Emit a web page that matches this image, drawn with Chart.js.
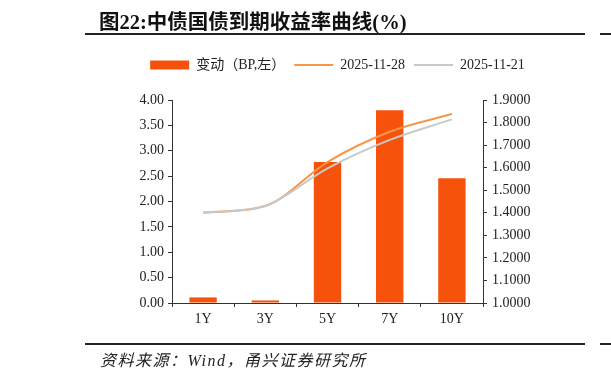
<!DOCTYPE html>
<html>
<head>
<meta charset="utf-8">
<script src="https://cdn.jsdelivr.net/npm/chart.js@4.4.0/dist/chart.umd.min.js"></script>
<style>
  body { margin: 0; background: #fff; }
  #wrap { position: relative; width: 611px; height: 377px; overflow: hidden; }
  #title { position: absolute; left: 99px; top: 5px; font: bold 20.5px 'Liberation Serif', 'Noto Sans CJK SC', serif; color: #111; white-space: nowrap; }
  .rule { position: absolute; height: 2px; background: #222; }
  #source { position: absolute; left: 100px; top: 347px; font: italic 16px 'Liberation Serif', 'Noto Sans CJK SC', serif; color: #222; letter-spacing: 1.5px; white-space: nowrap; }
  canvas { position: absolute; left: 0; top: 0; }
</style>
</head>
<body>
<div id="wrap">
  <canvas id="mycanvas" width="611" height="377"></canvas>
  <div id="title">图22:中债国债到期收益率曲线(%)</div>
  <div class="rule" style="left:85px; top:33px; width:500px;"></div>
  <div class="rule" style="left:600px; top:33px; width:11px;"></div>
  <div class="rule" style="left:85px; top:343px; width:500px;"></div>
  <div class="rule" style="left:600px; top:343px; width:11px;"></div>
  <div id="source">资料来源：Wind，甬兴证券研究所</div>
</div>
<script>
var tenors = ['1Y', '3Y', '5Y', '7Y', '10Y'];
var changeBp = [0.11, 0.05, 2.78, 3.80, 2.46];
var yield1128 = [1.401, 1.430, 1.625, 1.759, 1.838];
var yield1121 = [1.400, 1.431, 1.597, 1.723, 1.814];

var serif = "'Liberation Serif', 'Noto Sans CJK SC', serif";

var chartdata = {
	labels: tenors,
	datasets: [
		{
			type: 'bar',
			label: '变动（BP,左）',
			backgroundColor: '#F7520B',
			borderWidth: 0,
			pointStyle: 'rect',
			barPercentage: 0.44,
			categoryPercentage: 1,
			yAxisID: 'y',
			order: 2,
			data: changeBp
		},
		{
			type: 'line',
			label: '2025-11-28',
			borderColor: '#F79646',
			backgroundColor: '#F79646',
			borderWidth: 2,
			pointRadius: 0,
			pointStyle: 'line',
			cubicInterpolationMode: 'monotone',
			fill: false,
			yAxisID: 'y1',
			order: 1,
			data: yield1128
		},
		{
			type: 'line',
			label: '2025-11-21',
			borderColor: '#C9C9C9',
			backgroundColor: '#C9C9C9',
			borderWidth: 2,
			pointRadius: 0,
			pointStyle: 'line',
			cubicInterpolationMode: 'monotone',
			fill: false,
			yAxisID: 'y1',
			order: 0,
			data: yield1121
		}
	]
};

// leave a gap between the legend and the plot
var legendGap = {
	id: 'legendGap',
	beforeInit: function(chart) {
		var fit = chart.legend.fit;
		chart.legend.fit = function() {
			fit.call(this);
			this.height += 18;
		};
	}
};

var axisColor = '#333';

var ctx = document.getElementById('mycanvas');
var chart = new Chart(ctx, {
	data: chartdata,
	plugins: [legendGap],
	options: {
		responsive: false,
		animation: false,
		devicePixelRatio: 1,
		layout: { padding: { top: 49, left: 64, right: 0, bottom: 0 } },
		plugins: {
			tooltip: { enabled: false },
			legend: {
				position: 'top',
				labels: {
					usePointStyle: true,
					pointStyleWidth: 39,
					boxHeight: 9,
					padding: 9,
					color: '#222',
					font: { family: serif, size: 14 },
					sort: function(a, b) { return a.datasetIndex - b.datasetIndex; }
				}
			}
		},
		scales: {
			x: {
				offset: true,
				grid: { display: true, drawOnChartArea: false, tickLength: 4, color: axisColor, offset: true },
				border: { display: true, color: axisColor, width: 1 },
				ticks: { color: '#222', padding: 4, font: { family: serif, size: 14 } },
				afterFit: function(s) { s.height = 74; }
			},
			y: {
				position: 'left',
				min: 0,
				max: 4,
				ticks: {
					stepSize: 0.5,
					color: '#222',
					padding: 4,
					font: { family: serif, size: 14 },
					callback: function(v) { return v.toFixed(2); }
				},
				grid: { display: true, drawOnChartArea: false, tickLength: 4, color: axisColor },
				border: { display: true, color: axisColor, width: 1 },
				afterFit: function(s) { s.width = 108; }
			},
			y1: {
				position: 'right',
				min: 1,
				max: 1.9,
				ticks: {
					stepSize: 0.1,
					color: '#222',
					padding: 5,
					font: { family: serif, size: 14 },
					callback: function(v) { return v.toFixed(4); }
				},
				grid: { display: true, drawOnChartArea: false, tickLength: 4, color: axisColor },
				border: { display: true, color: axisColor, width: 1 },
				afterFit: function(s) { s.width = 128; }
			}
		}
	}
});
</script>
</body>
</html>
